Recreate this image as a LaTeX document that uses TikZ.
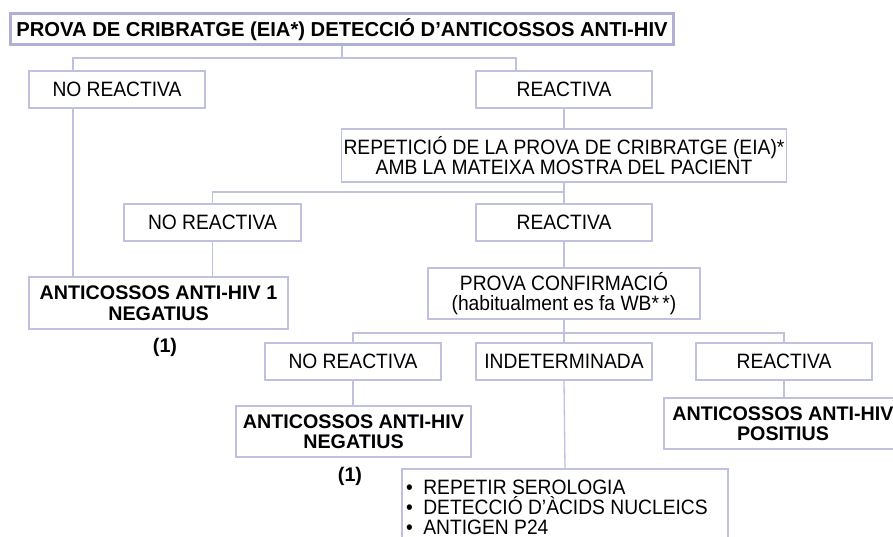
\documentclass[tikz,border=0pt]{standalone}
\usepackage{fontspec}
\setmainfont{Liberation Sans}
\newfontfamily\regfont{Liberation Sans}[FakeStretch=0.925]
\definecolor{lav}{RGB}{192,192,224}
\definecolor{lavdark}{RGB}{176,176,212}
\begin{document}
\begin{tikzpicture}[x=1pt,y=-1pt,
  box/.style={draw=lav, line width=1.3pt, inner sep=0pt, align=center, text=black,
    font=\regfont\fontsize{20.8}{20}\selectfont},
  small/.style={box, minimum width=176pt, minimum height=37pt},
  bbox/.style={box, font=\bfseries\fontsize{19.7}{20.5}\selectfont},
  conn/.style={draw=lav, line width=1.3pt},
  note/.style={font=\bfseries\fontsize{19.7}{20}\selectfont, inner sep=0pt, text=black}]
\useasboundingbox (0,0) rectangle (893,537);
\clip (0,0) rectangle (893,537);
\fill[white] (0,0) rectangle (893,537);

\node[box, draw=lavdark, line width=3pt, minimum width=663pt, minimum height=31pt,
  font=\bfseries\fontsize{20.2}{22}\selectfont] (title) at (342,29.5)
  {PROVA DE CRIBRATGE (EIA*) DETECCIÓ D’ANTICOSSOS ANTI-HIV};

\node[small] (nr1) at (117,89.5) {NO REACTIVA};
\node[small] (r1) at (564,89.5) {REACTIVA};
\node[box, minimum width=445pt, minimum height=53pt] (rep) at (564,155.5)
  {REPETICIÓ DE LA PROVA DE CRIBRATGE (EIA)*\\AMB LA MATEIXA MOSTRA DEL PACIENT};
\node[small, minimum width=177pt] (nr2) at (212.5,222.5) {NO REACTIVA};
\node[small] (r2) at (564,222.5) {REACTIVA};
\node[bbox, minimum width=259pt, minimum height=52pt] (neg1) at (158.5,303)
  {ANTICOSSOS ANTI-HIV 1\\NEGATIUS};
\node[note] (n1) at (165,347.5) {(1)};
\node[box, minimum width=272pt, minimum height=51pt] (conf) at (564,293.5)
  {PROVA CONFIRMACIÓ\\(habitualment es fa WB*\,*)};
\node[small] (nr3) at (353,361.5) {NO REACTIVA};
\node[small] (ind) at (564,361.5) {INDETERMINADA};
\node[small] (r3) at (784,361.5) {REACTIVA};
\node[bbox, minimum width=235pt, minimum height=51pt] (neg2) at (353.5,431.5)
  {ANTICOSSOS ANTI-HIV\\NEGATIUS};
\node[note] (n2) at (350,476) {(1)};
\node[bbox, minimum width=238pt, minimum height=51pt] (pos) at (783,423.5)
  {ANTICOSSOS ANTI-HIV\\POSITIUS};
\node[box, minimum width=326pt, minimum height=100pt] (tests) at (565,519) {};
\node[anchor=north west, inner sep=0pt, align=left, text=black,
  font=\regfont\fontsize{20.8}{20}\selectfont] (testlist) at (406,480)
  {•\hspace{0.5em}REPETIR SEROLOGIA\\•\hspace{0.5em}DETECCIÓ D’ÀCIDS NUCLEICS\\•\hspace{0.5em}ANTIGEN P24};

\coordinate (d1) at (73,58);
\coordinate (d2) at (516,58);
\coordinate (d3) at (564,192);
\coordinate (d4) at (564,333);

\draw[conn] (title.south) -- (title.south |- d1);
\draw[conn] (nr1.north -| d1) -- (d1) -- (d2) -- (r1.north -| d2);
\draw[conn] (nr1.south -| d1) -- (neg1.north -| d1);
\draw[conn] (r1.south) -- (rep.north);
\draw[conn] (rep.south) -- (d3);
\draw[conn] (nr2.north) |- (d3) -- (r2.north);
\draw[conn] (nr2.south) -- (neg1.north -| nr2.south);
\draw[conn] (r2.south) -- (conf.north);
\draw[conn] (conf.south) -- (d4);
\draw[conn] (nr3.north) |- (d4) -| (r3.north);
\draw[conn] (d4) -- (ind.north);
\draw[conn] (nr3.south) -- (neg2.north -| nr3.south);
\draw[conn] (ind.south) -- (tests.north);
\draw[conn] (r3.south) -- (pos.north -| r3.south);
\end{tikzpicture}
\end{document}
